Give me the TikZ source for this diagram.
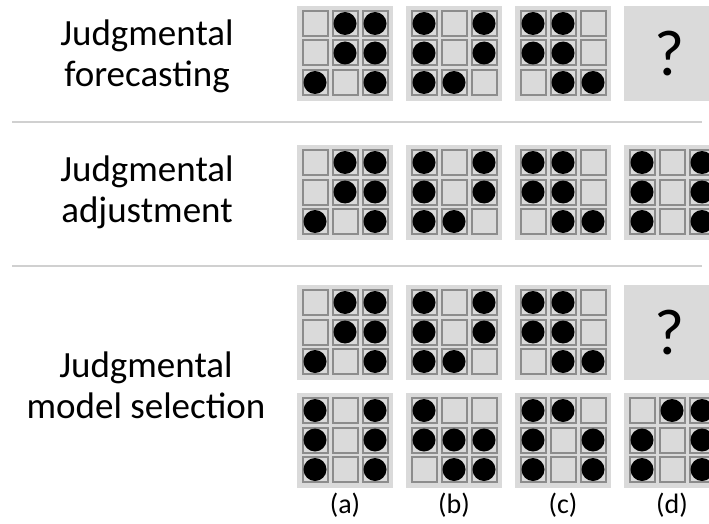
\documentclass[tikz,border=0pt]{standalone}
\usepackage{fontspec}
\setmainfont{Carlito}
\definecolor{panelbg}{HTML}{DADADA}
\definecolor{cellline}{HTML}{8C8C8C}
\definecolor{sepline}{HTML}{D0D0D0}
\tikzset{
  panelfill/.style={fill=panelbg},
  cellbox/.style={draw=cellline, line width=2pt, fill=panelbg},
  dotfill/.style={fill=black},
  seprule/.style={draw=sepline, line width=1.2pt},
  rowlabel/.style={align=center, font=\fontsize{37}{41}\selectfont, inner sep=0pt},
  collabel/.style={font=\fontsize{28}{32}\selectfont, inner sep=0pt},
  qmark/.style={font=\fontsize{65}{72}\selectfont, inner sep=0pt}
}
\newcommand\jpanel[3]{%
  \fill[panelfill] (#1,#2) rectangle ++(96,95);
  \foreach \b [count=\k from 0] in {#3} {
    \pgfmathsetmacro\cx{#1+4.5+30*mod(\k,3)}
    \pgfmathsetmacro\cy{#2+4+29.5*floor(\k/3)}
    \draw[cellbox] (\cx+1,\cy+1) rectangle (\cx+26,\cy+26);
    \ifnum\b=1 \fill[dotfill] (\cx+13.5,\cy+13.5) circle (11.5pt);\fi
  }%
}
\begin{document}
\begin{tikzpicture}[x=1pt,y=-1pt]
\useasboundingbox (0,0) rectangle (709,524);
\clip (0,0) rectangle (709,524);
% separators
\draw[seprule] (12,122) -- (702,122);
\draw[seprule] (12,266) -- (702,266);
% row labels
\node[rowlabel] (r1) at (147,56) {Judgmental\\forecasting};
\node[rowlabel] (r2) at (147,192) {Judgmental\\adjustment};
\node[rowlabel] (r3) at (146,385) {Judgmental\\model selection};
% row 1
\jpanel{297}{6}{0,1,1,0,1,1,1,0,1}
\jpanel{406}{6}{1,0,1,1,0,1,1,1,0}
\jpanel{515}{6}{1,1,0,1,1,0,0,1,1}
\fill[panelfill] (624,6) rectangle ++(96,95);
\node[qmark] (q1) at (670,54) {?};
% row 2
\jpanel{297}{145}{0,1,1,0,1,1,1,0,1}
\jpanel{406}{145}{1,0,1,1,0,1,1,1,0}
\jpanel{515}{145}{1,1,0,1,1,0,0,1,1}
\jpanel{624}{145}{1,0,1,1,0,1,1,0,1}
% row 3 top
\jpanel{297}{285}{0,1,1,0,1,1,1,0,1}
\jpanel{406}{285}{1,0,1,1,0,1,1,1,0}
\jpanel{515}{285}{1,1,0,1,1,0,0,1,1}
\fill[panelfill] (624,285) rectangle ++(96,95);
\node[qmark] (q2) at (670,333) {?};
% row 3 bottom
\jpanel{297}{393}{1,0,1,1,0,1,1,0,1}
\jpanel{406}{393}{1,0,0,1,1,1,0,1,1}
\jpanel{515}{393}{1,1,0,1,0,1,1,0,1}
\jpanel{624}{393}{0,1,1,1,0,1,1,0,1}
% column labels
\node[collabel] (la) at (345,505) {(a)};
\node[collabel] (lb) at (454,505) {(b)};
\node[collabel] (lc) at (563,505) {(c)};
\node[collabel] (ld) at (672,505) {(d)};
\end{tikzpicture}
\end{document}
